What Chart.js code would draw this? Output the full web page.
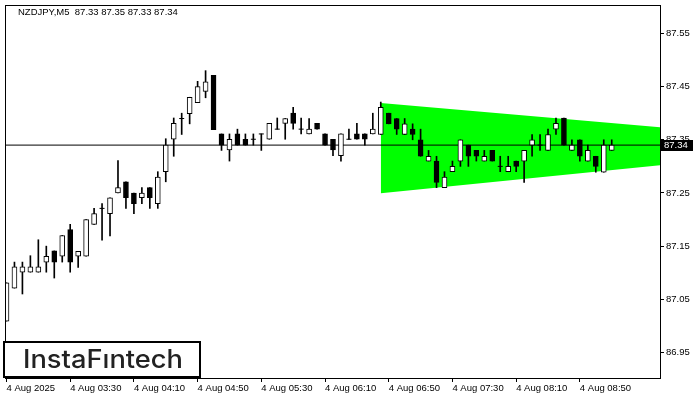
<!DOCTYPE html>
<html><head><meta charset="utf-8">
<script src="https://cdn.jsdelivr.net/npm/chart.js@4.4.1/dist/chart.umd.min.js"></script>
<style>html,body{margin:0;padding:0;background:#fff}canvas{display:block}</style>
</head><body>
<canvas id="c" width="700" height="400"></canvas>
<script>
const symbolTitle = 'NZDJPY,M5  87.33 87.35 87.33 87.34';
const logoText = 'InstaFıntech';

const opens  = [87.009,87.071,87.101,87.101,87.101,87.120,87.141,87.131,87.181,87.131,
                87.131,87.191,87.221,87.211,87.250,87.271,87.250,87.241,87.260,87.230,
                87.290,87.351,87.390,87.399,87.420,87.441,87.471,87.361,87.331,87.361,
                87.351,87.351,87.361,87.351,87.370,87.381,87.400,87.370,87.361,87.381,
                87.361,87.351,87.320,87.351,87.361,87.361,87.361,87.360,87.400,87.390,
                87.360,87.370,87.350,87.310,87.310,87.260,87.290,87.310,87.340,87.330,
                87.310,87.330,87.300,87.290,87.310,87.310,87.340,87.340,87.330,87.370,
                87.391,87.330,87.350,87.310,87.319,87.289,87.330];
const highs  = [87.081,87.120,87.120,87.132,87.162,87.150,87.141,87.170,87.191,87.140,
                87.200,87.221,87.230,87.241,87.311,87.271,87.250,87.260,87.260,87.290,
                87.352,87.391,87.400,87.430,87.460,87.480,87.471,87.361,87.361,87.370,
                87.361,87.361,87.361,87.381,87.391,87.390,87.411,87.391,87.390,87.381,
                87.361,87.351,87.361,87.370,87.381,87.361,87.400,87.421,87.400,87.390,
                87.390,87.380,87.370,87.330,87.319,87.290,87.310,87.350,87.340,87.330,
                87.330,87.330,87.319,87.319,87.310,87.330,87.360,87.360,87.370,87.391,
                87.391,87.350,87.350,87.340,87.319,87.350,87.350];
const lows   = [87.009,87.071,87.060,87.101,87.101,87.101,87.090,87.120,87.101,87.110,
                87.131,87.191,87.161,87.169,87.250,87.221,87.211,87.230,87.221,87.221,
                87.271,87.319,87.360,87.380,87.420,87.429,87.369,87.330,87.310,87.340,
                87.340,87.340,87.330,87.351,87.370,87.351,87.370,87.361,87.361,87.370,
                87.340,87.320,87.310,87.351,87.351,87.340,87.361,87.360,87.380,87.360,
                87.360,87.350,87.319,87.310,87.260,87.260,87.290,87.300,87.300,87.310,
                87.310,87.310,87.290,87.290,87.290,87.270,87.319,87.330,87.330,87.360,
                87.340,87.330,87.310,87.310,87.289,87.289,87.330];
const closes = [87.081,87.111,87.111,87.111,87.111,87.131,87.120,87.170,87.120,87.140,
                87.200,87.211,87.221,87.241,87.260,87.241,87.230,87.250,87.241,87.280,
                87.340,87.381,87.390,87.430,87.450,87.459,87.369,87.340,87.351,87.340,
                87.340,87.351,87.361,87.381,87.370,87.390,87.381,87.370,87.370,87.370,
                87.340,87.331,87.361,87.351,87.351,87.351,87.370,87.411,87.380,87.370,
                87.380,87.360,87.319,87.319,87.270,87.280,87.300,87.350,87.319,87.319,
                87.319,87.310,87.300,87.300,87.300,87.330,87.350,87.340,87.360,87.381,
                87.340,87.340,87.319,87.330,87.300,87.340,87.340];

const xTickIndex  = [0, 8, 16, 24, 32, 40, 48, 56, 64, 72];
const xTickLabels = ['4 Aug 2025','4 Aug 03:30','4 Aug 04:10','4 Aug 04:50','4 Aug 05:30',
                     '4 Aug 06:10','4 Aug 06:50','4 Aug 07:30','4 Aug 08:10','4 Aug 08:50'];
const yTicks = [87.55, 87.45, 87.35, 87.25, 87.15, 87.05, 86.95];
const currentPrice = 87.34;

const xMin = -0.1875, xMax = 82.0625;
const yMin = 86.902, yMax = 87.6035;

const patternX      = [47, xMax];
const patternTop    = [87.4194, 87.3735];
const patternBottom = [87.2496, 87.3019];

const idx = opens.map((_, i) => i);
const bodyIdx = idx.filter(i => opens[i] !== closes[i]);
const dojiIdx = idx.filter(i => opens[i] === closes[i]);
const bodyData = bodyIdx.map(i => ({x: i, y: [Math.min(opens[i], closes[i]), Math.max(opens[i], closes[i])]}));
const bodyColors = bodyIdx.map(i => closes[i] > opens[i] ? '#ffffff' : '#000000');
const dojiData = dojiIdx.map(i => ({x: i, y: opens[i]}));
const wickData = idx.map(i => ({x: i, y: [lows[i], highs[i]]}));

const labelFont = {family: 'Liberation Sans', size: 9.5};

const overlay = {
  id: 'overlay',
  afterDatasetsDraw(chart) {
    const {ctx, chartArea: a} = chart;
    ctx.save();
    ctx.strokeStyle = '#000';
    ctx.lineWidth = 1;
    ctx.strokeRect(a.left + 0.5, a.top + 0.5, a.right - a.left, a.bottom - a.top);
    ctx.restore();
  },
  afterDraw(chart) {
    const {ctx, chartArea: a} = chart;
    const ys = chart.scales.y;
    ctx.save();
    ctx.fillStyle = '#000';
    ctx.font = '9.5px "Liberation Sans"';
    ctx.textBaseline = 'middle';
    ctx.textAlign = 'left';
    ctx.fillText(symbolTitle, 18, 12);
    const py = Math.round(ys.getPixelForValue(currentPrice));
    ctx.fillStyle = '#000';
    ctx.fillRect(a.right + 1, py - 5, 32, 11);
    ctx.fillStyle = '#fff';
    ctx.fillText(currentPrice.toFixed(2), a.right + 4, py + 0.5);
    ctx.fillStyle = '#fff';
    ctx.fillRect(3, 341, 198, 37);
    ctx.strokeStyle = '#000';
    ctx.lineWidth = 2;
    ctx.strokeRect(4, 342, 196, 35);
    ctx.fillStyle = '#222';
    ctx.font = '500 25px Inter';
    ctx.textBaseline = 'alphabetic';
    const w = ctx.measureText(logoText).width;
    ctx.translate(23, 368);
    ctx.scale(160 / w, 1);
    ctx.fillText(logoText, 0, 0);
    ctx.restore();
  }
};

new Chart(document.getElementById('c'), {
  type: 'bar',
  data: {
    datasets: [
      {type: 'bar', data: bodyData, backgroundColor: bodyColors, borderColor: '#000', borderWidth: 1,
       borderSkipped: false, barThickness: 5, grouped: false, order: 0},
      {type: 'line', data: dojiData, showLine: false, pointStyle: 'line', pointRadius: 2.5,
       pointBorderColor: '#000', pointBorderWidth: 1, order: 1},
      {type: 'bar', data: wickData, backgroundColor: '#000', borderWidth: 0, barThickness: 1,
       grouped: false, order: 2},
      {type: 'line', data: [{x: xMin, y: currentPrice}, {x: xMax, y: currentPrice}],
       borderColor: '#000', borderWidth: 1, pointRadius: 0, order: 3},
      {type: 'line', data: patternX.map((x, i) => ({x, y: patternTop[i]})), borderWidth: 0,
       borderColor: 'rgba(0,0,0,0)', pointRadius: 0, fill: '+1', backgroundColor: '#00ff00', order: 4},
      {type: 'line', data: patternX.map((x, i) => ({x, y: patternBottom[i]})), borderWidth: 0,
       borderColor: 'rgba(0,0,0,0)', pointRadius: 0, fill: false, order: 5}
    ]
  },
  options: {
    responsive: false, animation: false, devicePixelRatio: 1,
    layout: {padding: {left: 2, top: 2, right: 0, bottom: 0}},
    plugins: {legend: {display: false}, tooltip: {enabled: false}},
    scales: {
      x: {
        type: 'linear', min: xMin, max: xMax, offset: false,
        grid: {display: true, offset: false, drawOnChartArea: false, drawTicks: true, tickLength: 4, color: '#000'},
        border: {display: false},
        ticks: {autoSkip: false, maxRotation: 0, minRotation: 0, align: 'start', padding: 1, color: '#000', font: labelFont,
                callback: v => { const j = xTickIndex.indexOf(v); return j >= 0 ? xTickLabels[j] : ''; }},
        afterBuildTicks: s => { s.ticks = xTickIndex.map(v => ({value: v})); },
        afterFit: s => { s.height = 22; s.paddingLeft = 0; s.paddingRight = 0; s.paddingTop = 0; s.paddingBottom = 0; }
      },
      y: {
        type: 'linear', position: 'right', min: yMin, max: yMax,
        grid: {display: true, drawOnChartArea: false, drawTicks: true, tickLength: 4, color: '#000'},
        border: {display: false},
        ticks: {padding: 2, color: '#000', font: labelFont, callback: v => Number(v).toFixed(2)},
        afterBuildTicks: s => { s.ticks = yTicks.map(v => ({value: v})); },
        afterFit: s => { s.width = 40; s.paddingLeft = 0; s.paddingRight = 0; s.paddingTop = 0; s.paddingBottom = 0; }
      }
    }
  },
  plugins: [overlay]
});
</script>
</body></html>
